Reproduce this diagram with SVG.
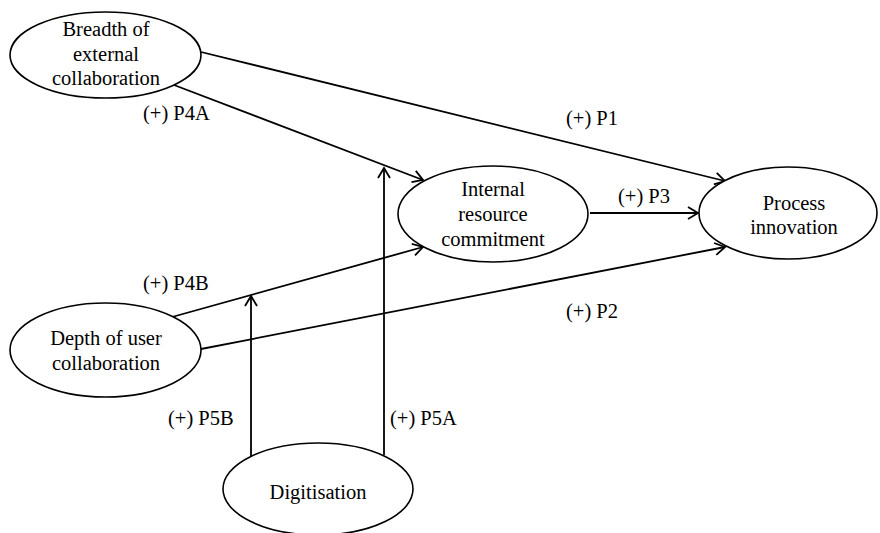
<svg xmlns="http://www.w3.org/2000/svg" width="880" height="533" viewBox="0 0 880 533">
<style>
.node ellipse{fill:#fff;stroke:#000;stroke-width:1.6}
text{font-family:"Liberation Serif","Times New Roman",serif;font-size:20.5px;fill:#000}
.node text{text-anchor:middle}
.edge{stroke:#000;stroke-width:1.8;fill:none;marker-end:url(#arr)}
</style>
<defs>
<marker id="arr" markerUnits="userSpaceOnUse" markerWidth="14" markerHeight="14" viewBox="0 0 14 14" refX="12" refY="7" orient="auto">
<path d="M2,1 L12,7 L2,13" fill="none" stroke="#000" stroke-width="1.8"/>
</marker>
</defs>
<rect width="880" height="533" fill="#fff"/>
<g id="connectors">
<line class="edge" x1="201" y1="52" x2="725" y2="181"/>
<line class="edge" x1="174" y1="85" x2="423" y2="180"/>
<line class="edge" x1="590" y1="213" x2="698" y2="213"/>
<line class="edge" x1="172" y1="317" x2="423" y2="247"/>
<line class="edge" x1="201" y1="349" x2="725" y2="247"/>
<line class="edge" x1="251" y1="457" x2="251" y2="296"/>
<line class="edge" x1="384" y1="455" x2="384" y2="168"/>
</g>
<g id="labels">
<text x="143" y="120">(+) P4A</text>
<text x="566" y="125">(+) P1</text>
<text x="618" y="203">(+) P3</text>
<text x="143" y="290">(+) P4B</text>
<text x="566" y="318">(+) P2</text>
<text x="168" y="425">(+) P5B</text>
<text x="390" y="425">(+) P5A</text>
</g>
<g id="breadth" class="node">
<ellipse cx="105.5" cy="55" rx="95.5" ry="43"/>
<text x="106" y="36">Breadth of</text>
<text x="106" y="61">external</text>
<text x="106" y="85">collaboration</text>
</g>
<g id="internal" class="node">
<ellipse cx="493" cy="214" rx="95" ry="48"/>
<text x="493" y="196">Internal</text>
<text x="493" y="221">resource</text>
<text x="493" y="246">commitment</text>
</g>
<g id="process" class="node">
<ellipse cx="788" cy="213" rx="89" ry="46"/>
<text x="794" y="210">Process</text>
<text x="794" y="234">innovation</text>
</g>
<g id="depth" class="node">
<ellipse cx="105.5" cy="350" rx="95.5" ry="47"/>
<text x="106" y="345">Depth of user</text>
<text x="106" y="370">collaboration</text>
</g>
<g id="digitisation" class="node">
<ellipse cx="318" cy="489" rx="95" ry="46"/>
<text x="318" y="499">Digitisation</text>
</g>
</svg>
